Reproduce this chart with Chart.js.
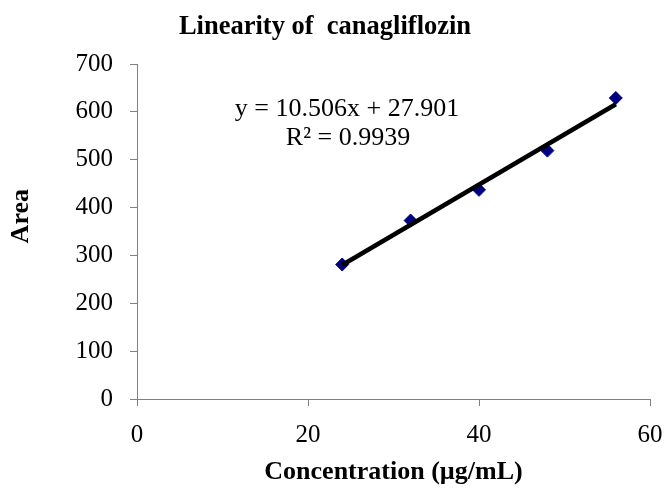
<!DOCTYPE html>
<html>
<head>
<meta charset="utf-8">
<script src="https://cdn.jsdelivr.net/npm/chart.js@4/dist/chart.umd.min.js"></script>
<style>
  html, body { margin: 0; padding: 0; background: #ffffff; }
  #wrap { width: 667px; height: 489px; }
</style>
</head>
<body>
<div id="wrap"><canvas id="c" width="667" height="489"></canvas></div>
<script>
// ---- data ----
const concentrations = [24, 32, 40, 48, 56];          // µg/mL
const areas = [281, 373, 437, 519, 629];              // peak area
const trendX = [24, 56];                              // trendline span
const trendY = [280, 616];                            // trendline ends (y = 10.506x + 27.901)
const xTicks = [0, 20, 40, 60];
const yTicks = [0, 100, 200, 300, 400, 500, 600, 700];
const chartTitle = 'Linearity of  canagliflozin';
const xTitle = 'Concentration (µg/mL)';
const yTitle = 'Area';
const equationLines = ['y = 10.506x + 27.901', 'R² = 0.9939'];

const SERIF = '"Liberation Serif", "Times New Roman", serif';

const annotationPlugin = {
  id: 'annot',
  afterDraw(chart) {
    const ctx = chart.ctx;
    const xs = chart.scales.x, ys = chart.scales.y;
    ctx.save();
    // equation text
    ctx.fillStyle = '#000000';
    ctx.font = '26px ' + SERIF;
    ctx.textAlign = 'center';
    ctx.textBaseline = 'middle';
    const cx = xs.getPixelForValue(24.56);
    ctx.fillText(equationLines[0], cx, ys.getPixelForValue(605));
    ctx.fillText(equationLines[1], cx + 1, ys.getPixelForValue(545));
    // y axis title
    ctx.font = 'bold 26px ' + SERIF;
    ctx.translate(21, ys.getPixelForValue(382));
    ctx.rotate(-Math.PI / 2);
    ctx.fillText(yTitle, 0, 0);
    ctx.restore();
  }
};

new Chart(document.getElementById('c'), {
  type: 'scatter',
  data: {
    datasets: [
      {
        type: 'line',
        label: 'Trend',
        data: trendX.map((x, i) => ({ x: x, y: trendY[i] })),
        borderColor: '#000000',
        borderWidth: 4.5,
        pointRadius: 0,
        fill: false,
        tension: 0
      },
      {
        label: 'Area',
        data: concentrations.map((x, i) => ({ x: x, y: areas[i] })),
        pointStyle: 'rectRot',
        pointRadius: 6.5,
        pointBackgroundColor: '#000080',
        pointBorderColor: '#000080',
        pointBorderWidth: 1,
        showLine: false
      }
    ]
  },
  options: {
    responsive: false,
    animation: false,
    devicePixelRatio: 1,
    layout: { padding: { top: 0, right: 17, bottom: 0, left: 0 } },
    plugins: {
      legend: { display: false },
      tooltip: { enabled: false },
      title: {
        display: true,
        text: chartTitle,
        color: '#000000',
        font: { family: SERIF, size: 26.5, weight: 'bold', lineHeight: 1.2 },
        padding: { top: 11, bottom: 21.2 }
      }
    },
    scales: {
      x: {
        type: 'linear',
        min: 0, max: 60,
        afterBuildTicks(scale) { scale.ticks = xTicks.map(v => ({ value: v })); },
        afterFit(scale) { scale.height = 90; scale.paddingRight = 0; scale.paddingLeft = 0; },
        ticks: {
          color: '#000000',
          padding: 14,
          font: { family: SERIF, size: 25 }
        },
        grid: {
          display: true,
          drawOnChartArea: false,
          drawTicks: true,
          tickLength: 7,
          color: '#808080',
          lineWidth: 1
        },
        border: { display: true, color: '#808080', width: 1 },
        title: {
          display: true,
          text: xTitle,
          color: '#000000',
          font: { family: SERIF, size: 26, weight: 'bold', lineHeight: 1.0 },
          padding: { top: 0, bottom: 4 }
        }
      },
      y: {
        type: 'linear',
        min: 0, max: 700,
        afterBuildTicks(scale) { scale.ticks = yTicks.map(v => ({ value: v })); },
        afterFit(scale) { scale.width = 137; scale.paddingTop = 0; scale.paddingBottom = 0; },
        ticks: {
          color: '#000000',
          padding: 17,
          font: { family: SERIF, size: 25 }
        },
        grid: {
          display: true,
          drawOnChartArea: false,
          drawTicks: true,
          tickLength: 7,
          color: '#808080',
          lineWidth: 1
        },
        border: { display: true, color: '#808080', width: 1 }
      }
    }
  },
  plugins: [annotationPlugin]
});
</script>
</body>
</html>
